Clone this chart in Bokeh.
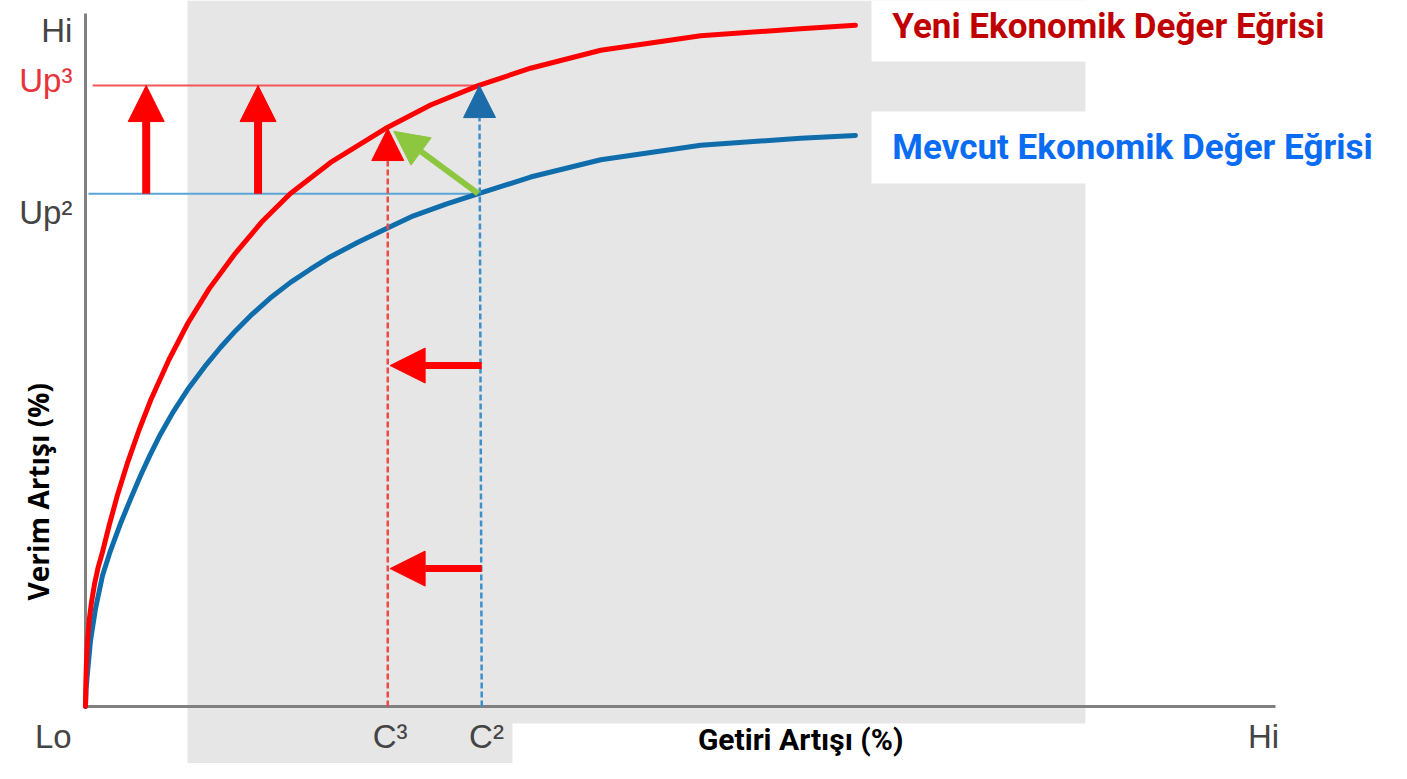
from bokeh.plotting import figure
from bokeh.models import Range1d, BoxAnnotation, Arrow, NormalHead, Label
from bokeh.embed import file_html
from bokeh.resources import INLINE

# ---- data (x: 0=Lo .. 100=Hi, y: 0=Lo .. 100=Hi) ----
red_x = [0, 0.03, 0.08, 0.17, 0.3, 0.5, 0.75, 1.05, 1.43, 2.0, 2.7, 3.5, 4.5, 5.5,
         7.0, 8.6, 10.4, 12.5, 14.8, 17.2, 20.6, 25.2, 29.0, 33.0, 37.4, 43.3,
         51.7, 60.1, 64.7]
red_y = [0, 3.5, 6.5, 9.5, 12.3, 15.0, 17.6, 20.0, 22.3, 26.2, 30.6, 35.0, 39.9, 44.3,
         50.0, 55.3, 60.3, 65.2, 69.9, 74.0, 78.5, 83.4, 86.8, 89.6, 92.1, 94.7,
         96.8, 97.8, 98.3]
blue_x = [0, 0.05, 0.17, 0.42, 0.84, 1.43, 2.1, 2.94, 3.8, 4.62, 5.4, 6.3, 7.4, 8.57,
          10.0, 11.34, 12.6, 13.87, 15.5, 17.23, 18.9, 20.59, 22.9, 25.21, 27.56,
          30.3, 33.03, 37.4, 43.3, 51.7, 60.1, 64.7]
blue_y = [0, 2.5, 4.9, 9.5, 14.1, 18.9, 22.5, 26.4, 30.0, 33.3, 36.2, 39.3, 42.6, 45.7,
          49.0, 51.8, 54.2, 56.4, 58.9, 61.2, 63.1, 64.9, 67.0, 68.9, 70.8,
          72.5, 74.0, 76.4, 78.9, 81.0, 82.0, 82.4]

C3, C2 = 25.4, 33.3          # cost levels
UP2, UP3 = 74.0, 89.6        # productivity levels
RED_AT_C3 = 83.4
up_arrow_x = [5.1, 14.5]
left_arrow_y = [49.2, 19.9]

x_tick_labels = ["Lo", "C³", "C²", "Hi"]
x_tick_pos = [-2.7, 25.6, 33.7, 99.0]
y_tick_labels = ["Hi", "Up³", "Up²"]
y_tick_pos = [97.6, 90.3, 71.3]
y_tick_colors = ["#444444", "#e8333b", "#444444"]

legend_texts = ["Yeni Ekonomik Değer Eğrisi", "Mevcut Ekonomik Değer Eğrisi"]
legend_colors = ["#c00000", "#0a6cf2"]
legend_y = [98.1, 80.6]

# ---- figure ----
X0, XS, Y0, YS = 85, 11.9, 706, 6.93
W, H = 1391, 763
p = figure(width=W, height=H, output_backend="svg", toolbar_location=None,
           min_border=0, x_axis_location=None, y_axis_location=None,
           x_range=Range1d((0 - X0) / XS, (W - X0) / XS),
           y_range=Range1d((Y0 - H) / YS, Y0 / YS))
p.grid.visible = False
p.outline_line_color = None
p.background_fill_color = "white"
p.border_fill_color = "white"

# background panels
p.add_layout(BoxAnnotation(left=8.57, right=84.03, fill_color="#e6e6e6", fill_alpha=1,
                           line_alpha=0, level="underlay"))
p.add_layout(BoxAnnotation(left=66.05, bottom=93.07, fill_color="white", fill_alpha=1,
                           line_alpha=0, level="underlay"))
p.add_layout(BoxAnnotation(left=66.05, bottom=75.47, top=85.86, fill_color="white",
                           fill_alpha=1, line_alpha=0, level="underlay"))
p.add_layout(BoxAnnotation(left=35.88, top=-2.45, fill_color="white", fill_alpha=1,
                           line_alpha=0, level="underlay"))

# axes
p.line([0, 100], [0, 0], line_color="#808080", line_width=3)
p.line([0, 0], [0, 100], line_color="#808080", line_width=3)

# level lines
p.line([0.6, C2], [UP3, UP3], line_color="#f25656", line_width=2)
p.line([0.25, C2], [UP2, UP2], line_color="#5aa5d8", line_width=2)

# dashed verticals with heads
p.add_layout(Arrow(x_start=C3, y_start=0, x_end=C3, y_end=RED_AT_C3,
                   line_color="#f04848", line_width=2.5, line_dash="6 3",
                   end=NormalHead(size=32, fill_color="#ff0000", line_color="#ff0000", line_width=1)))
p.add_layout(Arrow(x_start=C2, y_start=0, x_end=C2 - 0.2, y_end=UP3,
                   line_color="#3d8fc9", line_width=2.5, line_dash="6 3",
                   end=NormalHead(size=32, fill_color="#1b6ca8", line_color="#1b6ca8", line_width=1)))

# curves
p.line(blue_x, blue_y, line_color="#0f6dab", line_width=5, line_cap="round", line_join="round")
p.line(red_x, red_y, line_color="#ff0000", line_width=5, line_cap="round", line_join="round")

# red up arrows
for ax in up_arrow_x:
    p.add_layout(Arrow(x_start=ax, y_start=UP2, x_end=ax, y_end=UP3,
                       line_color="#ff0000", line_width=8,
                       end=NormalHead(size=36, fill_color="#ff0000", line_color="#ff0000", line_width=1)))
# red left arrows
for ay in left_arrow_y:
    p.add_layout(Arrow(x_start=C2, y_start=ay, x_end=C3 + 0.2, y_end=ay,
                       line_color="#ff0000", line_width=7,
                       end=NormalHead(size=35, fill_color="#ff0000", line_color="#ff0000", line_width=1)))
# green arrow
p.add_layout(Arrow(x_start=C2 - 0.3, y_start=UP2, x_end=C3 + 0.5, y_end=RED_AT_C3 - 0.4,
                   line_color="#8dc63f", line_width=6,
                   end=NormalHead(size=34, fill_color="#8dc63f", line_color="#8dc63f", line_width=1)))

# tick labels
for t, xx in zip(x_tick_labels, x_tick_pos):
    p.add_layout(Label(x=xx, y=-4.3, text=t, text_align="center", text_baseline="middle",
                       text_font="Liberation Sans", text_font_size="33px", text_color="#444444"))
for t, yy, c in zip(y_tick_labels, y_tick_pos, y_tick_colors):
    p.add_layout(Label(x=-1.1, y=yy, text=t, text_align="right", text_baseline="middle",
                       text_font="Liberation Sans", text_font_size="33px", text_color=c))

# legend texts
for t, c, yy in zip(legend_texts, legend_colors, legend_y):
    p.add_layout(Label(x=67.8, y=yy, text=t, text_align="left", text_baseline="middle",
                       text_font="Roboto", text_font_style="bold",
                       text_font_size="35px", text_color=c))

# axis titles
p.add_layout(Label(x=60.1, y=-4.7, text="Getiri Artışı (%)", text_align="center",
                   text_baseline="middle", text_font="Roboto",
                   text_font_style="bold", text_font_size="30px", text_color="black"))
p.add_layout(Label(x=-4.0, y=31.0, text="Verim Artışı (%)", text_align="center",
                   text_baseline="middle", angle=90, angle_units="deg",
                   text_font="Open Sans", text_font_style="bold",
                   text_font_size="28px", text_color="black"))

open("out.html", "w").write(file_html(p, INLINE))
